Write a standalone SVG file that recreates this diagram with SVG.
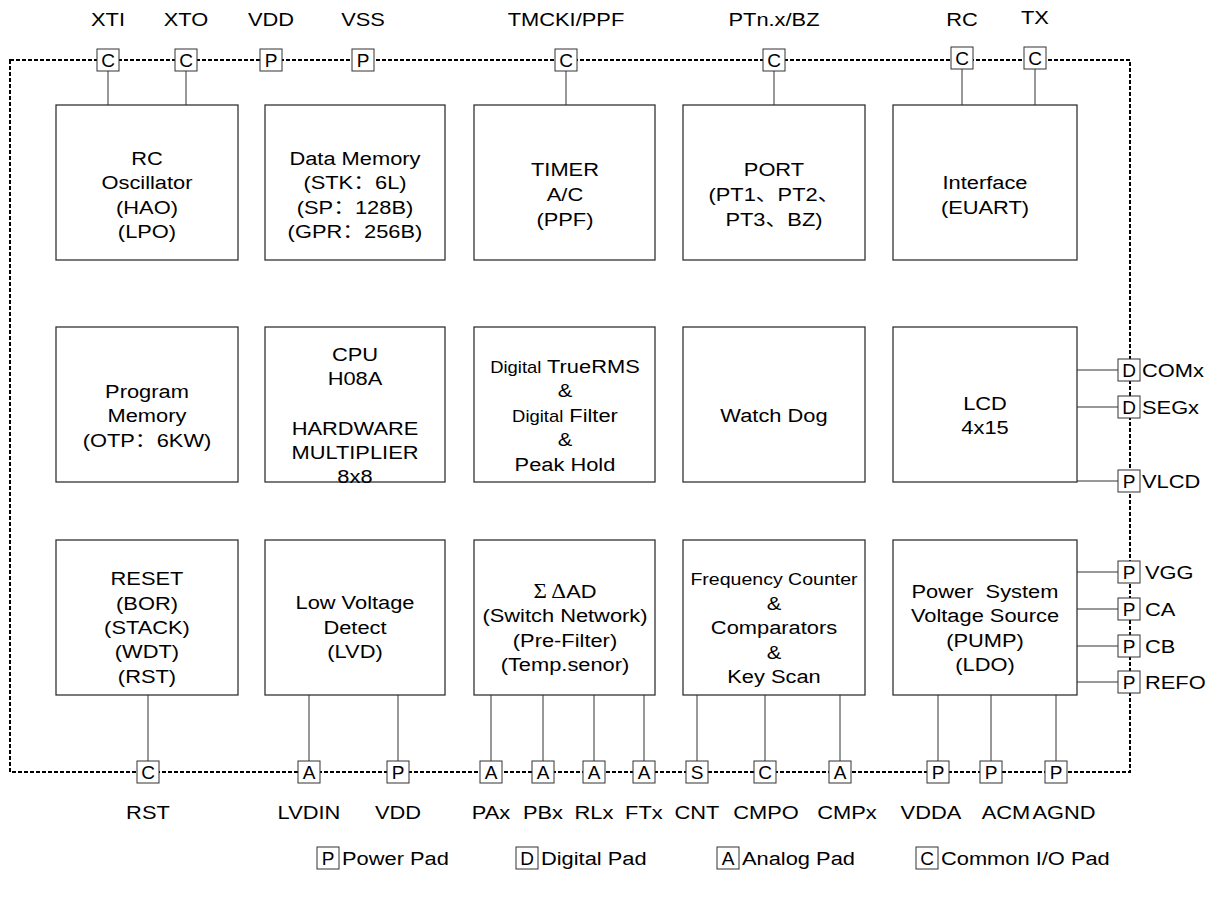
<svg xmlns="http://www.w3.org/2000/svg" width="1218" height="900" viewBox="0 0 1218 900">
<style>
text{font-family:"Liberation Sans",Arial,"Noto Sans CJK SC",sans-serif;font-size:19px;fill:#000;text-anchor:middle;transform-box:fill-box;transform-origin:center;transform:scaleX(1.15);}
.l{text-anchor:start;transform-origin:left center;}
.p{transform:none;font-size:19px;}
.blk{fill:#fff;stroke:#333;stroke-width:1.3;}
.pad{fill:#fff;stroke:#333;stroke-width:1;}
.wire{stroke:#333;stroke-width:1;fill:none;}
.border{stroke:#000;stroke-width:2;fill:none;stroke-dasharray:4,2;}
.sm{font-size:16px;}
</style>
<defs>
<rect id="pb" class="pad" x="-11" y="-11" width="22" height="22"/>
</defs>
<rect x="0" y="0" width="1218" height="900" fill="#fff"/>
<g id="border"><rect class="border" x="10" y="60" width="1120" height="712"/></g>
<g id="connectors">
<path class="wire" d="M108 71V105M186 71V105M566 71V105M774 71V105M962 69V105M1035 69V105"/>
<path class="wire" d="M1077 370H1118M1077 407H1118M1077 481H1118M1077 572H1118M1077 609H1118M1077 646H1118M1077 682H1118"/>
<path class="wire" d="M148 695V761M309 695V761M398 695V761M491 695V761M543 695V761M594 695V761M644 695V761M697 695V761M765 695V761M840 695V761M938 695V761M991 695V761M1056 695V761"/>
</g>
<g id="top-pads">
<g id="pad-xti"><use href="#pb" x="108" y="60"/><text class="p" x="108" y="67">C</text><text x="108" y="26">XTI</text></g>
<g id="pad-xto"><use href="#pb" x="186" y="60"/><text class="p" x="186" y="67">C</text><text x="186" y="26">XTO</text></g>
<g id="pad-vdd"><use href="#pb" x="271" y="60"/><text class="p" x="271" y="67">P</text><text x="271" y="26">VDD</text></g>
<g id="pad-vss"><use href="#pb" x="363" y="60"/><text class="p" x="363" y="67">P</text><text x="363" y="26">VSS</text></g>
<g id="pad-tmcki"><use href="#pb" x="566" y="60"/><text class="p" x="566" y="67">C</text><text x="566" y="26">TMCKI/PPF</text></g>
<g id="pad-ptn"><use href="#pb" x="774" y="60"/><text class="p" x="774" y="67">C</text><text x="774" y="26">PTn.x/BZ</text></g>
<g id="pad-rc"><use href="#pb" x="962" y="58"/><text class="p" x="962" y="65">C</text><text x="962" y="26">RC</text></g>
<g id="pad-tx"><use href="#pb" x="1035" y="58"/><text class="p" x="1035" y="65">C</text><text x="1035" y="24">TX</text></g>
</g>
<g id="right-pads">
<g id="pad-comx"><use href="#pb" x="1129" y="370"/><text class="p" x="1129" y="377">D</text><text class="l" x="1142" y="377">COMx</text></g>
<g id="pad-segx"><use href="#pb" x="1129" y="407"/><text class="p" x="1129" y="414">D</text><text class="l" x="1142" y="414">SEGx</text></g>
<g id="pad-vlcd"><use href="#pb" x="1129" y="481"/><text class="p" x="1129" y="488">P</text><text class="l" x="1142" y="488">VLCD</text></g>
<g id="pad-vgg"><use href="#pb" x="1129" y="572"/><text class="p" x="1129" y="579">P</text><text class="l" x="1145" y="579">VGG</text></g>
<g id="pad-ca"><use href="#pb" x="1129" y="609"/><text class="p" x="1129" y="616">P</text><text class="l" x="1145" y="616">CA</text></g>
<g id="pad-cb"><use href="#pb" x="1129" y="646"/><text class="p" x="1129" y="653">P</text><text class="l" x="1145" y="653">CB</text></g>
<g id="pad-refo"><use href="#pb" x="1129" y="682"/><text class="p" x="1129" y="689">P</text><text class="l" x="1145" y="689">REFO</text></g>
</g>
<g id="bottom-pads">
<g id="pad-rst"><use href="#pb" x="148" y="772"/><text class="p" x="148" y="779">C</text><text x="148" y="819">RST</text></g>
<g id="pad-lvdin"><use href="#pb" x="309" y="772"/><text class="p" x="309" y="779">A</text><text x="309" y="819">LVDIN</text></g>
<g id="pad-vdd2"><use href="#pb" x="398" y="772"/><text class="p" x="398" y="779">P</text><text x="398" y="819">VDD</text></g>
<g id="pad-pax"><use href="#pb" x="491" y="772"/><text class="p" x="491" y="779">A</text><text x="491" y="819">PAx</text></g>
<g id="pad-pbx"><use href="#pb" x="543" y="772"/><text class="p" x="543" y="779">A</text><text x="543" y="819">PBx</text></g>
<g id="pad-rlx"><use href="#pb" x="594" y="772"/><text class="p" x="594" y="779">A</text><text x="594" y="819">RLx</text></g>
<g id="pad-ftx"><use href="#pb" x="644" y="772"/><text class="p" x="644" y="779">A</text><text x="644" y="819">FTx</text></g>
<g id="pad-cnt"><use href="#pb" x="697" y="772"/><text class="p" x="697" y="779">S</text><text x="697" y="819">CNT</text></g>
<g id="pad-cmpo"><use href="#pb" x="765" y="772"/><text class="p" x="765" y="779">C</text><text x="766" y="819">CMPO</text></g>
<g id="pad-cmpx"><use href="#pb" x="840" y="772"/><text class="p" x="840" y="779">A</text><text x="847" y="819">CMPx</text></g>
<g id="pad-vdda"><use href="#pb" x="938" y="772"/><text class="p" x="938" y="779">P</text><text x="931" y="819">VDDA</text></g>
<g id="pad-acm"><use href="#pb" x="991" y="772"/><text class="p" x="991" y="779">P</text><text x="1006" y="819">ACM</text></g>
<g id="pad-agnd"><use href="#pb" x="1056" y="772"/><text class="p" x="1056" y="779">P</text><text x="1064" y="819">AGND</text></g>
</g>
<g id="blk-osc"><rect class="blk" x="56" y="105" width="182" height="155"/>
<text x="147" y="165">RC</text><text x="147" y="189">Oscillator</text><text x="147" y="214">(HAO)</text><text x="147" y="238">(LPO)</text></g>
<g id="blk-dmem"><rect class="blk" x="265" y="105" width="180" height="155"/>
<text x="355" y="165">Data Memory</text><text x="355" y="189">(STK：6L)</text><text x="355" y="214">(SP：128B)</text><text x="355" y="238">(GPR：256B)</text></g>
<g id="blk-timer"><rect class="blk" x="474" y="105" width="181" height="155"/>
<text x="565" y="176">TIMER</text><text x="565" y="201">A/C</text><text x="565" y="226">(PPF)</text></g>
<g id="blk-port"><rect class="blk" x="683" y="105" width="182" height="155"/>
<text x="774" y="176">PORT</text><text x="774" y="201">(PT1、PT2、</text><text x="774" y="226">PT3、BZ)</text></g>
<g id="blk-if"><rect class="blk" x="893" y="105" width="184" height="155"/>
<text x="985" y="189">Interface</text><text x="985" y="214">(EUART)</text></g>
<g id="blk-pmem"><rect class="blk" x="56" y="327" width="182" height="155"/>
<text x="147" y="398">Program</text><text x="147" y="422">Memory</text><text x="147" y="447">(OTP：6KW)</text></g>
<g id="blk-cpu"><rect class="blk" x="265" y="327" width="180" height="155"/>
<text x="355" y="361">CPU</text><text x="355" y="385">H08A</text><text x="355" y="435">HARDWARE</text><text x="355" y="459">MULTIPLIER</text><text x="355" y="483">8x8</text></g>
<g id="blk-rms"><rect class="blk" x="474" y="327" width="181" height="155"/>
<text x="565" y="373"><tspan class="sm">Digital</tspan> TrueRMS</text><text x="565" y="397">&amp;</text><text x="565" y="422"><tspan class="sm">Digital</tspan> Filter</text><text x="565" y="446">&amp;</text><text x="565" y="471">Peak Hold</text></g>
<g id="blk-wdt"><rect class="blk" x="683" y="327" width="182" height="155"/>
<text x="774" y="422">Watch Dog</text></g>
<g id="blk-lcd"><rect class="blk" x="893" y="327" width="184" height="155"/>
<text x="985" y="410">LCD</text><text x="985" y="434">4x15</text></g>
<g id="blk-reset"><rect class="blk" x="56" y="540" width="182" height="155"/>
<text x="147" y="585">RESET</text><text x="147" y="610">(BOR)</text><text x="147" y="634">(STACK)</text><text x="147" y="658">(WDT)</text><text x="147" y="683">(RST)</text></g>
<g id="blk-lvd"><rect class="blk" x="265" y="540" width="180" height="155"/>
<text x="355" y="609">Low Voltage</text><text x="355" y="634">Detect</text><text x="355" y="658">(LVD)</text></g>
<g id="blk-ad"><rect class="blk" x="474" y="540" width="181" height="155"/>
<text x="565" y="598"><tspan style="font-family:'Liberation Serif',serif;font-size:20px">Σ Δ</tspan>AD</text><text x="565" y="622">(Switch Network)</text><text x="565" y="647">(Pre-Filter)</text><text x="565" y="671">(Temp.senor)</text></g>
<g id="blk-freq"><rect class="blk" x="683" y="540" width="182" height="155"/>
<text x="774" y="585" style="font-size:17px">Frequency Counter</text><text x="774" y="610">&amp;</text><text x="774" y="634">Comparators</text><text x="774" y="659">&amp;</text><text x="774" y="683">Key Scan</text></g>
<g id="blk-pwr"><rect class="blk" x="893" y="540" width="184" height="155"/>
<text x="985" y="598" xml:space="preserve">Power  System</text><text x="985" y="622">Voltage Source</text><text x="985" y="647">(PUMP)</text><text x="985" y="671">(LDO)</text></g>
<g id="legend">
<g id="lg-p"><use href="#pb" x="328" y="858"/><text class="p" x="328" y="865">P</text><text class="l" x="342" y="865">Power Pad</text></g>
<g id="lg-d"><use href="#pb" x="527" y="858"/><text class="p" x="527" y="865">D</text><text class="l" x="541" y="865">Digital Pad</text></g>
<g id="lg-a"><use href="#pb" x="728" y="858"/><text class="p" x="728" y="865">A</text><text class="l" x="742" y="865">Analog Pad</text></g>
<g id="lg-c"><use href="#pb" x="927" y="858"/><text class="p" x="927" y="865">C</text><text class="l" x="941" y="865">Common I/O Pad</text></g>
</g>
</svg>
